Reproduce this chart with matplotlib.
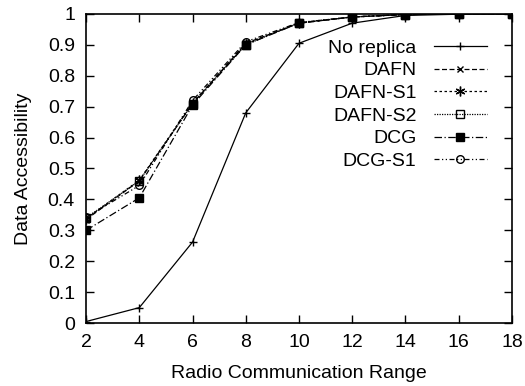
import matplotlib
matplotlib.use('Agg')
from matplotlib import pyplot as plt

plt.rcParams['font.family'] = ['Liberation Sans', 'DejaVu Sans']
plt.rcParams['font.size'] = 14

ranges = [2, 4, 6, 8, 10, 12, 14, 16, 18]
no_replica = [0.005, 0.05, 0.262, 0.68, 0.905, 0.97, 0.995, 0.999, 1.0]
dafn = [0.335, 0.46, 0.71, 0.905, 0.97, 0.99, 0.998, 1.0, 1.0]
dafn_s1 = [0.338, 0.462, 0.712, 0.903, 0.97, 0.99, 0.998, 1.0, 1.0]
dafn_s2 = [0.34, 0.46, 0.71, 0.90, 0.972, 0.99, 0.998, 1.0, 1.0]
dcg = [0.30, 0.405, 0.705, 0.90, 0.97, 0.99, 0.998, 1.0, 1.0]
dcg_s1 = [0.342, 0.445, 0.72, 0.91, 0.972, 0.99, 0.998, 1.0, 1.0]

fig = plt.figure(figsize=(5.25, 3.86), dpi=100)
ax = fig.add_axes([0.164, 0.163, 0.811, 0.801])

lw = 0.9
ax.plot(ranges, no_replica, color='black', lw=lw, ls='-', marker='+', ms=6, label='No replica')
ax.plot(ranges, dafn, color='black', lw=lw, ls=(0, (4, 2)), marker='x', ms=5, label='DAFN')
ax.plot(ranges, dafn_s1, color='black', lw=lw, ls=(0, (2, 2)), marker=(6, 2, 0), ms=7, label='DAFN-S1')
ax.plot(ranges, dafn_s2, color='black', lw=lw, ls=(0, (1, 1)), marker='s', ms=5.5, mfc='none', label='DAFN-S2')
ax.plot(ranges, dcg, color='black', lw=lw, ls=(0, (6, 2, 1, 2)), marker='s', ms=5.5, label='DCG')
ax.plot(ranges, dcg_s1, color='black', lw=lw, ls=(0, (4, 2, 1, 2, 1, 2)), marker='o', ms=5.5, mfc='none', label='DCG-S1')

ax.set_xlim(2, 18)
ax.set_ylim(0, 1)
ax.set_xticks(ranges)
ax.set_yticks([0, 0.1, 0.2, 0.3, 0.4, 0.5, 0.6, 0.7, 0.8, 0.9, 1])
ax.set_yticklabels(['0', '0.1', '0.2', '0.3', '0.4', '0.5', '0.6', '0.7', '0.8', '0.9', '1'])
ax.tick_params(direction='in', top=True, right=True, length=6, width=1, pad=8)
for s in ax.spines.values():
    s.set_linewidth(1.2)

ax.set_xlabel('Radio Communication Range', labelpad=10)
ax.set_ylabel('Data Accessibility', labelpad=11)

ax.legend(loc='upper right', markerfirst=False, frameon=False, handlelength=2.7,
          handletextpad=0.9, labelspacing=0.26, borderaxespad=0.9)

fig.savefig('out.png', dpi=100)
plt.close()
